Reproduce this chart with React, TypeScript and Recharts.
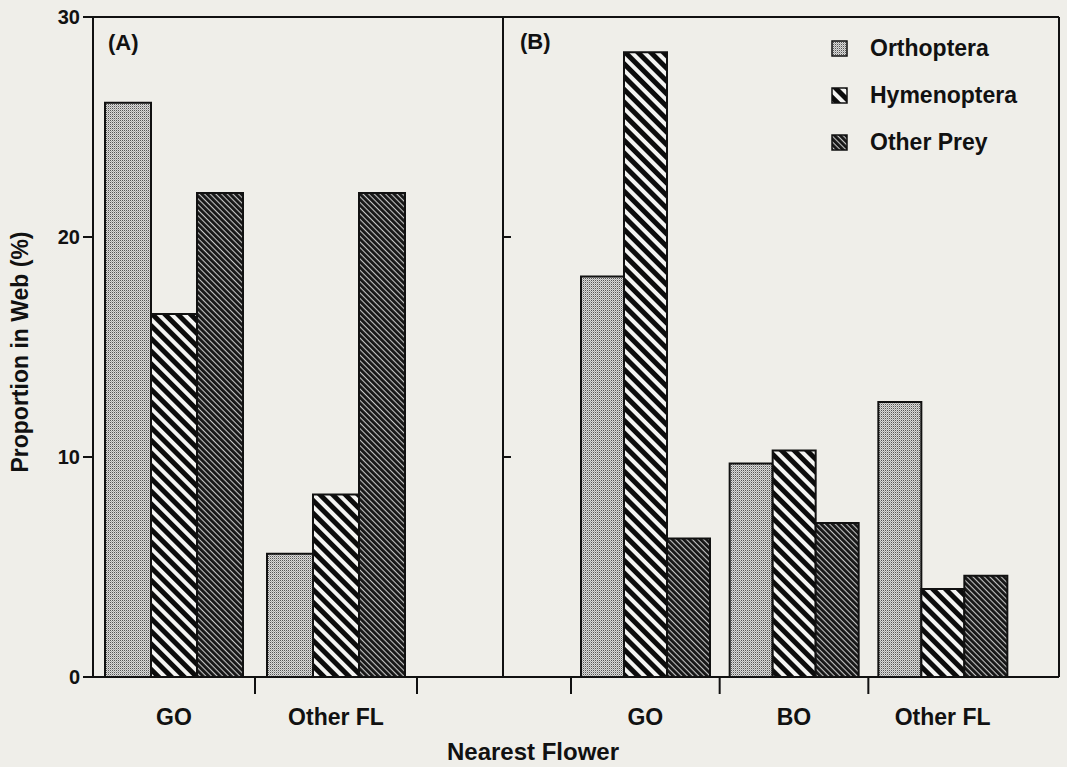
import { BarChart, Bar, XAxis, YAxis, ReferenceLine, Legend } from "recharts";

// values (percent of prey in web)
const panelACategories = ["GO", "Other FL"];
const panelAOrthoptera = [26.1, 5.6];
const panelAHymenoptera = [16.5, 8.3];
const panelAOtherPrey = [22.0, 22.0];

const panelBCategories = ["GO", "BO", "Other FL"];
const panelBOrthoptera = [18.2, 9.7, 12.5];
const panelBHymenoptera = [28.4, 10.3, 4.0];
const panelBOtherPrey = [6.3, 7.0, 4.6];

const yTicks = [0, 10, 20, 30];
const dividerTicks = [10, 20];

const seriesNames = ["Orthoptera", "Hymenoptera", "Other Prey"];
const seriesKeys = ["orth", "hym", "other"];
const seriesFills = ["url(#pat-orth)", "url(#pat-hym)", "url(#pat-other)"];

const buildRows = (cats: string[], a: number[], b: number[], c: number[]) =>
    cats.map((name, i) => ({ name, orth: a[i], hym: b[i], other: c[i] }));

const dataA = buildRows(panelACategories, panelAOrthoptera, panelAHymenoptera, panelAOtherPrey);
const dataB = buildRows(panelBCategories, panelBOrthoptera, panelBHymenoptera, panelBOtherPrey);

const INK = "#111";
const BG = "#efeee9";

// category label centred in the band, tick mark drawn on a band edge
function BoundaryTick(props: any) {
    const { x, y, payload, side } = props;
    const half = payload && payload.offset ? payload.offset : 0;
    const tx = x + side * half;
    return (
        <g>
            <line x1={tx} y1={y} x2={tx} y2={y + 17} stroke={INK} strokeWidth={2} />
            <text x={x} y={y + 48} textAnchor="middle" fontSize={23} fontWeight={700} fill={INK}>
                {payload.value}
            </text>
        </g>
    );
}

// keep the legend in series order (recharts sorts it otherwise)
function LegendBox() {
    return (
        <div>
            {seriesNames.map((name, i) => (
                <div key={name} style={{ display: "flex", alignItems: "center", height: 47 }}>
                    <svg width={17} height={17} style={{ marginRight: 22 }}>
                        <rect x={1} y={1} width={15} height={15} fill={seriesFills[i]} stroke={INK} strokeWidth={1.5} />
                    </svg>
                    <span style={{ fontSize: 23, fontWeight: 700, color: INK }}>{name}</span>
                </div>
            ))}
        </div>
    );
}

function Patterns() {
    return (
        <defs>
            <pattern id="pat-orth" width={2} height={2} patternUnits="userSpaceOnUse">
                <rect width={2} height={2} fill="#dadad8" />
                <rect x={0} y={0} width={1} height={1} fill="#555" />
                <rect x={1} y={1} width={1} height={1} fill="#a8a8a8" />
            </pattern>
            <pattern id="pat-hym" width={9} height={9} patternUnits="userSpaceOnUse" patternTransform="rotate(45)">
                <rect width={9} height={9} fill="#0c0c0c" />
                <rect x={0} y={0} width={9} height={4} fill="#f4f4f2" />
            </pattern>
            <pattern id="pat-other" width={4} height={4} patternUnits="userSpaceOnUse" patternTransform="rotate(45)">
                <rect width={4} height={4} fill="#161616" />
                <rect x={0} y={0} width={4} height={1.1} fill="#c4c4c4" />
            </pattern>
        </defs>
    );
}

const NoLabel = () => <g />;

export default function App() {
    return (
        <div style={{
            position: "absolute",
            left: 0,
            top: 0,
            width: 1067,
            height: 767,
            background: BG,
            fontFamily: "'Liberation Sans', Arial, Helvetica, sans-serif",
            overflow: "hidden",
        }}>
            {/* panel A, with the shared y axis and titles */}
            <div style={{ position: "absolute", left: 0, top: 0 }}>
                <BarChart width={1067} height={767} data={dataA} barGap={0} barCategoryGap={12}
                    margin={{ top: 17, right: 564, bottom: 0, left: 0 }}>
                    <Patterns />
                    <XAxis dataKey="name" height={90} padding={{ left: 0, right: 86 }}
                        axisLine={{ stroke: INK, strokeWidth: 2 }} tickLine={false}
                        tickSize={0} tickMargin={0}
                        tick={(p: any) => <BoundaryTick {...p} side={1} />} />
                    <YAxis width={93} domain={[0, 30]} ticks={yTicks} allowDataOverflow
                        axisLine={{ stroke: INK, strokeWidth: 2 }}
                        tickLine={{ stroke: INK, strokeWidth: 2 }} tickSize={10} tickMargin={3}
                        tick={{ fill: INK, fontSize: 20, fontWeight: 700 }} />
                    <ReferenceLine y={30} stroke={INK} strokeWidth={2} />
                    {seriesKeys.map((k, i) => (
                        <Bar key={k} dataKey={k} name={seriesNames[i]} fill={seriesFills[i]}
                            stroke={INK} strokeWidth={2} isAnimationActive={false} />
                    ))}
                    <text x={108} y={50} fontSize={22} fontWeight={700} fill={INK}>(A)</text>
                    <text x={533} y={760} textAnchor="middle" fontSize={24} fontWeight={700} fill={INK}>
                        Nearest Flower
                    </text>
                    <text x={20} y={352} transform="rotate(-90 20 352)" textAnchor="middle"
                        dominantBaseline="central" fontSize={23} fontWeight={700} fill={INK}>
                        Proportion in Web (%)
                    </text>
                </BarChart>
            </div>

            {/* panel B; its left axis is the divider, with ticks pointing inward */}
            <div style={{ position: "absolute", left: 493, top: 0 }}>
                <BarChart width={574} height={767} data={dataB} barGap={0} barCategoryGap={10}
                    margin={{ top: 17, right: 7, bottom: 0, left: 10 }}>
                    <XAxis dataKey="name" height={90} padding={{ left: 68, right: 42 }}
                        axisLine={{ stroke: INK, strokeWidth: 2 }} tickLine={false}
                        tickSize={0} tickMargin={0}
                        tick={(p: any) => <BoundaryTick {...p} side={-1} />} />
                    <YAxis yAxisId="l" width={1} mirror domain={[0, 30]} ticks={dividerTicks} allowDataOverflow
                        axisLine={{ stroke: INK, strokeWidth: 2 }}
                        tickLine={{ stroke: INK, strokeWidth: 2 }} tickSize={8} tick={NoLabel} />
                    <YAxis yAxisId="r" orientation="right" width={1} domain={[0, 30]} ticks={yTicks}
                        axisLine={{ stroke: INK, strokeWidth: 2 }} tickLine={false} tick={false} />
                    <ReferenceLine yAxisId="l" y={30} stroke={INK} strokeWidth={2} />
                    {seriesKeys.map((k, i) => (
                        <Bar key={k} yAxisId="l" dataKey={k} name={seriesNames[i]} fill={seriesFills[i]}
                            stroke={INK} strokeWidth={2} isAnimationActive={false} />
                    ))}
                    <text x={27} y={49} fontSize={22} fontWeight={700} fill={INK}>(B)</text>
                    <Legend layout="vertical" align="center" verticalAlign="middle"
                        wrapperStyle={{ left: 338, top: 25, width: 220 }}
                        content={<LegendBox />} />
                </BarChart>
            </div>
        </div>
    );
}
